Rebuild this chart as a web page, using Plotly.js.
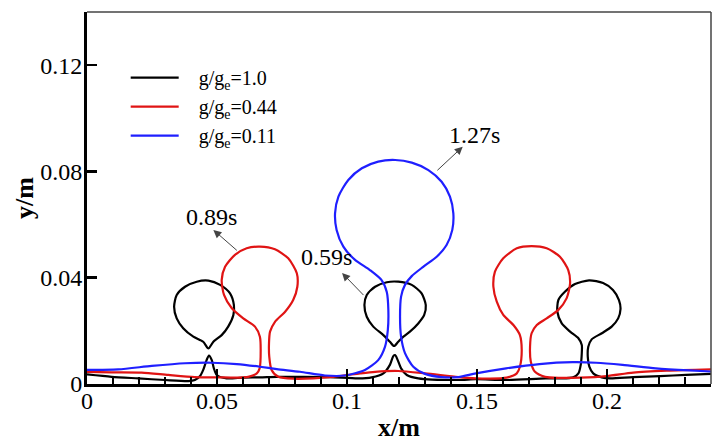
<!DOCTYPE html>
<html>
<head>
<meta charset="utf-8">
<script src="https://cdn.plot.ly/plotly-3.0.1.min.js"></script>
<style>html,body{margin:0;padding:0;background:#fff;}#chart{width:716px;height:446px;}</style>
</head>
<body>
<div id="chart"></div>
<script>
// ---------- series names ----------
var seriesNames = ['\u00a0\u00a0\u00a0g/g<sub>e</sub>=1.0', '\u00a0\u00a0\u00a0g/g<sub>e</sub>=0.44', '\u00a0\u00a0\u00a0g/g<sub>e</sub>=0.11'];

// ---------- g/ge = 1.0 (black) ----------
var blackBaseX = [0, 0.0095, 0.0197, 0.03, 0.039, 0.0415, 0.0435, 0.0447, 0.046, 0.0469, 0.048, 0.0488, 0.0499, 0.0537, 0.0601, 0.0665, 0.073, 0.0819, 0.0935, 0.1043, 0.1095, 0.114, 0.1165, 0.1178, 0.1185, 0.1195, 0.1208, 0.123, 0.1274, 0.1428, 0.1496, 0.1612, 0.1765, 0.1819, 0.187, 0.189, 0.1899, 0.1903, 0.1903, 0.189, 0.1858, 0.1826, 0.1809, 0.1813, 0.1838, 0.1877, 0.1931, 0.1985, 0.2023, 0.2046, 0.2052, 0.2043, 0.2018, 0.198, 0.1941, 0.1928, 0.1926, 0.1932, 0.1947, 0.198, 0.2012, 0.21, 0.2204, 0.2304, 0.24];
var blackBaseY = [0.0036, 0.0027, 0.0021, 0.0015, 0.0011, 0.0015, 0.003, 0.0053, 0.009, 0.0107, 0.009, 0.0059, 0.0034, 0.0021, 0.0024, 0.0025, 0.0027, 0.0027, 0.0026, 0.0021, 0.0025, 0.004, 0.0072, 0.0105, 0.0109, 0.009, 0.0059, 0.0034, 0.0021, 0.0015, 0.0018, 0.0015, 0.0021, 0.0021, 0.0025, 0.004, 0.0072, 0.0116, 0.0147, 0.0172, 0.0197, 0.0228, 0.0272, 0.0316, 0.0347, 0.0376, 0.039, 0.038, 0.0354, 0.0316, 0.0282, 0.0247, 0.0216, 0.0191, 0.0168, 0.014, 0.0103, 0.0065, 0.004, 0.0025, 0.0021, 0.0026, 0.003, 0.0034, 0.0038];
var blackBubbleLeftX = [0.0467, 0.0486, 0.0518, 0.0543, 0.0563, 0.0565, 0.055, 0.0512, 0.0467, 0.0422, 0.0377, 0.0345, 0.0335, 0.0345, 0.037, 0.0409, 0.0447, 0.0467];
var blackBubbleLeftY = [0.0134, 0.0159, 0.0184, 0.0216, 0.026, 0.0297, 0.0341, 0.0373, 0.0389, 0.0385, 0.0366, 0.0335, 0.0291, 0.0247, 0.021, 0.0178, 0.0159, 0.0134];
var blackBubbleMidX = [0.1181, 0.1197, 0.1217, 0.1242, 0.1274, 0.1297, 0.1303, 0.1287, 0.1249, 0.1197, 0.1153, 0.1108, 0.1076, 0.1067, 0.1076, 0.1101, 0.114, 0.1165, 0.1181];
var blackBubbleMidY = [0.0143, 0.0159, 0.0178, 0.0197, 0.0228, 0.026, 0.0297, 0.0341, 0.0373, 0.0385, 0.0383, 0.0366, 0.0335, 0.0297, 0.0253, 0.0216, 0.0184, 0.0159, 0.0143];

// ---------- g/ge = 0.44 (red) ----------
var redX = [0, 0.0095, 0.021, 0.0313, 0.0415, 0.0505, 0.0576, 0.062, 0.0653, 0.0664, 0.0668, 0.0665, 0.0646, 0.0601, 0.0557, 0.0527, 0.0518, 0.0531, 0.0569, 0.0614, 0.0665, 0.0723, 0.0774, 0.0807, 0.0809, 0.0793, 0.0762, 0.0723, 0.0704, 0.07, 0.0701, 0.071, 0.0736, 0.0793, 0.0947, 0.105, 0.1108, 0.1197, 0.13, 0.1428, 0.1496, 0.155, 0.1614, 0.1653, 0.1665, 0.1672, 0.1665, 0.164, 0.1601, 0.1576, 0.1563, 0.1569, 0.1601, 0.1653, 0.171, 0.1768, 0.1819, 0.1851, 0.1858, 0.1845, 0.1813, 0.1768, 0.173, 0.171, 0.1704, 0.1707, 0.1723, 0.1762, 0.1819, 0.1896, 0.1999, 0.2101, 0.223, 0.24];
var redY = [0.0046, 0.0044, 0.0043, 0.0034, 0.0026, 0.0025, 0.0024, 0.0027, 0.004, 0.0059, 0.0128, 0.0178, 0.0216, 0.0247, 0.0285, 0.0335, 0.0391, 0.0441, 0.0486, 0.0511, 0.0517, 0.0507, 0.0473, 0.0417, 0.0366, 0.0316, 0.0272, 0.0234, 0.0197, 0.0153, 0.0103, 0.0053, 0.0027, 0.002, 0.0027, 0.004, 0.0046, 0.0049, 0.004, 0.0026, 0.0021, 0.002, 0.0024, 0.004, 0.0065, 0.0128, 0.0184, 0.0222, 0.026, 0.031, 0.0366, 0.0423, 0.0473, 0.0511, 0.0519, 0.0511, 0.0479, 0.0429, 0.0379, 0.0323, 0.0279, 0.0247, 0.0222, 0.0191, 0.014, 0.0084, 0.0046, 0.0027, 0.0023, 0.0024, 0.003, 0.0043, 0.005, 0.0055];

// ---------- g/ge = 0.11 (blue) ----------
var blueX = [0, 0.012, 0.0249, 0.0377, 0.048, 0.0576, 0.0665, 0.073, 0.0819, 0.0915, 0.0992, 0.1069, 0.112, 0.1146, 0.1157, 0.1159, 0.1153, 0.1133, 0.1088, 0.1031, 0.0986, 0.096, 0.0954, 0.0967, 0.1005, 0.1057, 0.112, 0.1185, 0.1249, 0.1313, 0.1364, 0.1396, 0.1409, 0.1405, 0.1383, 0.1345, 0.1293, 0.1249, 0.1223, 0.1208, 0.1204, 0.1208, 0.1223, 0.1255, 0.13, 0.1364, 0.1428, 0.1496, 0.1612, 0.174, 0.1868, 0.1958, 0.206, 0.2188, 0.2317, 0.24];
var blueY = [0.0053, 0.0055, 0.0068, 0.0078, 0.008, 0.0075, 0.0065, 0.0056, 0.0046, 0.0032, 0.0032, 0.0053, 0.009, 0.014, 0.0203, 0.0279, 0.0346, 0.0391, 0.0429, 0.0467, 0.0517, 0.058, 0.0642, 0.0705, 0.0768, 0.0812, 0.0837, 0.0843, 0.0833, 0.0805, 0.0761, 0.0705, 0.0642, 0.058, 0.0523, 0.0479, 0.0441, 0.0406, 0.0373, 0.0329, 0.0253, 0.0178, 0.0116, 0.0065, 0.0038, 0.0026, 0.0026, 0.004, 0.0059, 0.0075, 0.0082, 0.008, 0.0072, 0.0059, 0.0051, 0.0047];

// ---------- time annotations ----------
var annTexts = ['1.27s', '0.89s', '0.59s'];
var annTextX = [0.149, 0.048, 0.0922];
var annTextY = [0.0937, 0.063, 0.0479];
var annHeadX = [0.1445, 0.0486, 0.0981];
var annHeadY = [0.0893, 0.058, 0.0418];
var annTailX = [0.1342, 0.0582, 0.1069];
var annTailY = [0.0799, 0.0498, 0.0329];

// ---------- axes ----------
var xRange = [0, 0.24];
var yRange = [0, 0.14];
var xTickStep = 0.05, xMinorStep = 0.01, yTickStep = 0.04;

function joinPieces(pieces) {
  var out = [];
  pieces.forEach(function (p, i) { if (i > 0) out.push(null); out = out.concat(p); });
  return out;
}

var FONT = '"Liberation Serif", "Times New Roman", serif';
var lineStyle = {width: 2.2, shape: 'spline', smoothing: 0.7};

var traces = [
  {x: joinPieces([blackBaseX, blackBubbleLeftX, blackBubbleMidX]),
   y: joinPieces([blackBaseY, blackBubbleLeftY, blackBubbleMidY]),
   mode: 'lines', name: seriesNames[0], connectgaps: false,
   line: Object.assign({color: '#000000'}, lineStyle)},
  {x: redX, y: redY, mode: 'lines', name: seriesNames[1],
   line: Object.assign({color: '#e01414'}, lineStyle)},
  {x: blueX, y: blueY, mode: 'lines', name: seriesNames[2],
   line: Object.assign({color: '#1f1fff'}, lineStyle)}
];

var annotations = [];
for (var i = 0; i < annTexts.length; i++) {
  annotations.push({x: annHeadX[i], y: annHeadY[i], ax: annTailX[i], ay: annTailY[i],
    xref: 'x', yref: 'y', axref: 'x', ayref: 'y', text: '', showarrow: true,
    arrowhead: 2, arrowsize: 1.6, arrowwidth: 1, arrowcolor: '#444', standoff: 0, startstandoff: 0});
  annotations.push({x: annTextX[i], y: annTextY[i], xref: 'x', yref: 'y', text: annTexts[i],
    showarrow: false, font: {family: FONT, size: 24, color: '#000'}, xanchor: 'center', yanchor: 'middle'});
}

var layout = {
  width: 716, height: 446,
  margin: {l: 87, r: 5, t: 12, b: 62, pad: 0},
  paper_bgcolor: '#ffffff', plot_bgcolor: '#ffffff',
  font: {family: FONT, size: 22, color: '#000'},
  showlegend: true,
  legend: {x: 0.062, y: 0.876, xanchor: 'left', yanchor: 'top', bgcolor: 'rgba(0,0,0,0)',
    borderwidth: 0, font: {family: FONT, size: 20, color: '#000'}, itemwidth: 48,
    tracegroupgap: 0},
  xaxis: {range: xRange, showgrid: false, zeroline: false, showline: true, linewidth: 3, linecolor: '#000',
    ticks: 'inside', ticklen: 15, tickwidth: 2, tickcolor: '#000', dtick: xTickStep, tick0: 0,
    ticklabelstandoff: -7,
    minor: {dtick: xMinorStep, ticks: 'inside', ticklen: 7, tickwidth: 1.2, tickcolor: '#000', showgrid: false},
    tickfont: {family: FONT, size: 24, color: '#000'},
    title: {text: '<b>x/m</b>', font: {family: FONT, size: 26, color: '#000'}, standoff: 6}},
  yaxis: {range: yRange, showgrid: false, zeroline: false, showline: true, linewidth: 3, linecolor: '#000',
    ticks: 'inside', ticklen: 10, tickwidth: 2.5, tickcolor: '#000', dtick: yTickStep, tick0: 0,
    ticklabelstandoff: -3,
    tickfont: {family: FONT, size: 24, color: '#000'},
    title: {text: '<b>y/m</b>', font: {family: FONT, size: 26, color: '#000'}, standoff: 0}},
  shapes: [
    {type: 'line', xref: 'paper', yref: 'paper', x0: 0, x1: 1, y0: 1, y1: 1, line: {color: '#444', width: 1.5}},
    {type: 'line', xref: 'paper', yref: 'paper', x0: 1, x1: 1, y0: 0, y1: 1, line: {color: '#444', width: 1.5}}
  ],
  annotations: annotations
};

Plotly.newPlot('chart', traces, layout, {staticPlot: true, displayModeBar: false});
</script>
</body>
</html>
